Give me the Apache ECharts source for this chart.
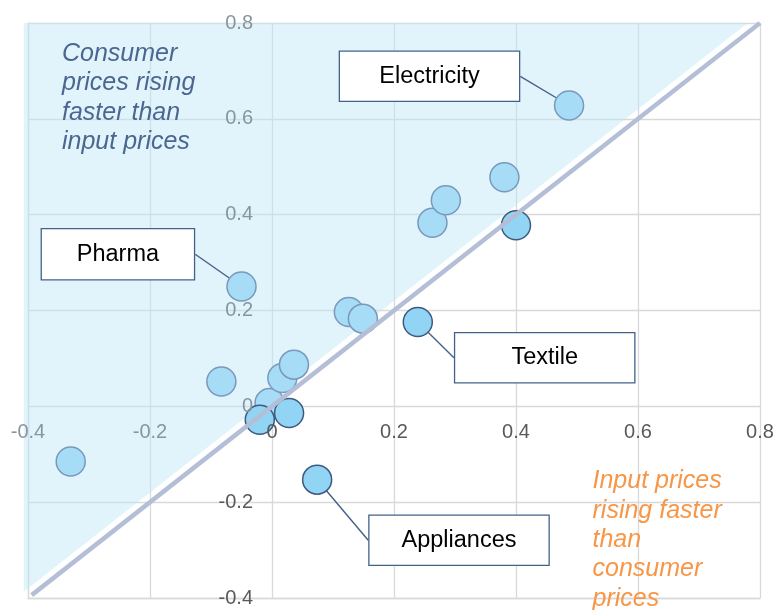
<!DOCTYPE html>
<html><head><meta charset="utf-8">
<script src="https://cdn.jsdelivr.net/npm/echarts@6/dist/echarts.min.js"></script>
<style>html,body{margin:0;padding:0;background:#fff}#chart{width:777px;height:610px}</style>
</head><body><div id="chart"></div>
<script>
// ---- data ----
const axisMin = -0.4, axisMax = 0.8, tickStep = 0.2;
const xValues = [-0.330, -0.083, -0.050, -0.020, -0.004, 0.017, 0.036, 0.028, 0.074, 0.126, 0.149, 0.239, 0.263, 0.285, 0.381, 0.400, 0.487];
const yValues = [-0.115, 0.052, 0.250, -0.028, 0.007, 0.059, 0.087, -0.014, -0.153, 0.197, 0.183, 0.176, 0.383, 0.430, 0.478, 0.378, 0.628];
const pointNames = ['', '', 'Pharma', '', '', '', '', '', 'Appliances', '', '', 'Textile', '', '', '', '', 'Electricity'];
const parityLine = [[-0.394, -0.394], [0.8, 0.8]];
const shadeVertices = [[-0.407, -0.387], [-0.407, 0.8], [0.78, 0.8]];
const topLeftNote = 'Consumer\nprices rising\nfaster than\ninput prices';
const bottomRightNote = 'Input prices\nrising faster\nthan\nconsumer\nprices';

// ---- callout layout (pixels) ----
const callouts = {
  'Electricity': {cx: 429.5, cy: 76.3, w: 179, h: 49, side: 'right', gap: 17.5},
  'Pharma':      {cx: 117.9, cy: 254.3, w: 152, h: 50, side: 'right', gap: 22},
  'Textile':     {cx: 544.7, cy: 357.8, w: 179, h: 49, side: 'left', gap: 9.3},
  'Appliances':  {cx: 459,   cy: 540.3, w: 179, h: 49, side: 'left', gap: 13}
};

function buildItems(below) {
  const out = [];
  for (let i = 0; i < xValues.length; i++) {
    const isBelow = yValues[i] < xValues[i];
    if (isBelow !== below) continue;
    const item = {value: [xValues[i], yValues[i]], name: pointNames[i]};
    if (pointNames[i]) {
      const c = callouts[pointNames[i]];
      item.label = {show: true, width: c.w, height: c.h, lineHeight: c.h};
    }
    out.push(item);
  }
  return out;
}

const FONT = '"Liberation Sans", Arial, sans-serif';
const labelBase = {
  show: false, formatter: '{b}', color: '#000', fontSize: 23.5, fontFamily: FONT,
  backgroundColor: '#fff', borderColor: '#44618a', borderWidth: 1.3, padding: 0,
  align: 'center', verticalAlign: 'middle'
};
function layoutFn(seriesData) {
  return function (p) {
    const d = seriesData[p.dataIndex];
    if (!d || !d.name) return {};
    const c = callouts[d.name];
    const r = p.rect;
    const pcx = r.x + r.width / 2, pcy = r.y + r.height / 2;
    const sx = c.side === 'right' ? c.cx + c.w / 2 : c.cx - c.w / 2;
    const sy = c.cy;
    const dx = pcx - sx, dy = pcy - sy, dd = Math.hypot(dx, dy);
    const ex = pcx - dx / dd * c.gap, ey = pcy - dy / dd * c.gap;
    return {
      x: c.cx, y: c.cy, align: 'center', verticalAlign: 'middle',
      labelLinePoints: [[sx, sy], [(sx + ex) / 2, (sy + ey) / 2], [ex, ey]]
    };
  };
}

const aboveItems = buildItems(false);
const belowItems = buildItems(true);

const chart = echarts.init(document.getElementById('chart'), null, {renderer: 'canvas'});
const tickText = v => String(Math.round(v * 10) / 10);
// labels lying inside the shaded half look lighter in the reference
const xLabelFmt = v => (v < 0 ? '{s|' : '{n|') + tickText(v) + '}';
const yLabelFmt = v => (v >= 0 ? '{s|' : '{n|') + tickText(v) + '}';
const labelRich = {
  n: {color: '#595959', fontSize: 20, fontFamily: FONT},
  s: {color: '#87969e', fontSize: 20, fontFamily: FONT}
};
const gridAxis = {
  type: 'value', min: axisMin, max: axisMax, interval: tickStep, z: 0,
  axisLine: {show: true, onZero: false, lineStyle: {color: '#d9d9d9', width: 1.3}},
  axisTick: {show: false}, axisLabel: {show: false},
  splitLine: {show: true, lineStyle: {color: '#d9d9d9', width: 1.3}}
};
const labelAxis = {
  type: 'value', min: axisMin, max: axisMax, interval: tickStep, z: 10,
  axisLine: {show: false, onZero: false}, axisTick: {show: false}, splitLine: {show: false}
};
chart.setOption({
  backgroundColor: '#fff',
  animation: false,
  grid: {left: 28, top: 23, right: 17, bottom: 12, containLabel: false, outerBoundsMode: 'none'},
  xAxis: [
    Object.assign({}, gridAxis, {position: 'bottom'}),
    Object.assign({}, labelAxis, {position: 'bottom',
      axisLabel: {formatter: xLabelFmt, rich: labelRich, margin: 16}})
  ],
  yAxis: [
    Object.assign({}, gridAxis, {position: 'left'}),
    Object.assign({}, labelAxis, {position: 'left',
      axisLabel: {formatter: yLabelFmt, rich: labelRich, margin: 19}})
  ],
  series: [
    {
      type: 'custom', z: 1, silent: true, data: [0],
      renderItem: function (params, api) {
        return {
          type: 'polygon',
          shape: {points: shadeVertices.map(v => api.coord(v))},
          style: {fill: 'rgba(191,232,249,0.47)'}
        };
      }
    },
    {
      type: 'scatter', z: 3, symbol: 'circle', symbolSize: 29,
      itemStyle: {color: '#a6dcf6', borderColor: '#7a98bb', borderWidth: 1.5, opacity: 1},
      data: aboveItems,
      label: labelBase,
      labelLine: {show: true, lineStyle: {color: '#44618a', width: 1.4}},
      labelLayout: layoutFn(aboveItems)
    },
    {
      type: 'scatter', z: 4, symbol: 'circle', symbolSize: 29,
      itemStyle: {color: '#92d4f4', borderColor: '#3f5a80', borderWidth: 1.5, opacity: 1},
      data: belowItems,
      label: labelBase,
      labelLine: {show: true, lineStyle: {color: '#44618a', width: 1.4}},
      labelLayout: layoutFn(belowItems)
    },
    {
      type: 'line', z: 5, silent: true, symbol: 'none', data: parityLine,
      lineStyle: {color: '#b4bfd7', width: 4.5}
    }
  ],
  graphic: [
    {type: 'text', left: 62, top: 39.5, z: 10, silent: true,
     style: {text: topLeftNote, fill: '#4b6790', font: 'italic 25px ' + FONT, lineHeight: 29.3}},
    {type: 'text', left: 592.5, top: 466.7, z: 10, silent: true,
     style: {text: bottomRightNote, fill: '#f79646', font: 'italic 25px ' + FONT, lineHeight: 29.3}}
  ]
});

// Place the label axes so they cross at the origin, using the library's own scales.
const y0 = chart.convertToPixel({yAxisIndex: 0}, 0);
const yBottom = chart.convertToPixel({yAxisIndex: 0}, axisMin);
const x0 = chart.convertToPixel({xAxisIndex: 0}, 0);
const xLeft = chart.convertToPixel({xAxisIndex: 0}, axisMin);
chart.setOption({
  xAxis: [{offset: 0}, {offset: -(yBottom - y0)}],
  yAxis: [{offset: 0}, {offset: -(x0 - xLeft)}]
});
</script>
</body></html>
